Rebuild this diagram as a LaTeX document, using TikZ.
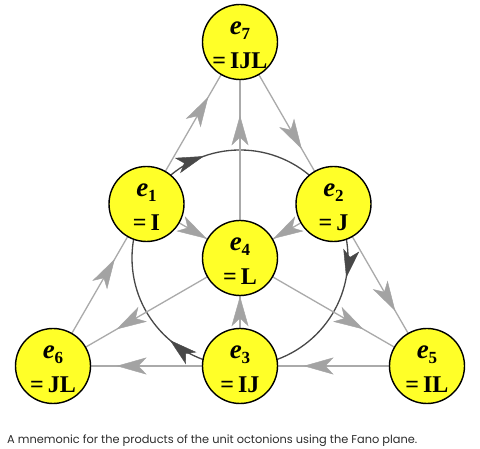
\documentclass[tikz,border=0pt]{standalone}
\usepackage{fontspec}
\setmainfont{Liberation Serif}
\newfontfamily\capfont{Poppins}
\usetikzlibrary{arrows.meta,decorations.markings,backgrounds,calc}
\definecolor{nodeyellow}{RGB}{255,255,40}
\definecolor{edgegray}{RGB}{170,170,170}
\definecolor{arrowgray}{RGB}{163,163,163}
\definecolor{circdark}{RGB}{72,72,72}
\definecolor{arrowdark}{RGB}{72,72,72}
\definecolor{captiongray}{RGB}{45,45,45}
\tikzset{
  garrow/.tip={Stealth[length=30pt,width=17pt,inset=8pt,line width=0.4pt,color=arrowgray,fill=arrowgray]},
  darrow/.tip={Stealth[length=28pt,width=16pt,inset=7pt,line width=0.4pt,color=arrowdark,fill=arrowdark]},
  fano/.style={circle,draw=black,line width=1.4pt,fill=nodeyellow,minimum size=75pt,inner sep=0pt},
  etxt/.style={anchor=base,inner sep=0pt,font=\fontsize{27}{27}\selectfont\bfseries\itshape},
  vtxt/.style={anchor=base,inner sep=0pt,font=\fontsize{24}{24}\selectfont\bfseries},
  fanoedge/.style={draw=edgegray,line width=1.3pt,postaction={decorate},
    decoration={markings,mark=at position #1 with {\arrow{garrow}}}},
  fanoedge/.default=0.66,
  darkcirc/.style={draw=circdark,line width=1.3pt,postaction={decorate},
    decoration={markings,
      mark=at position 0.3042 with {\arrowreversed{darrow}},
      mark=at position 0.6375 with {\arrowreversed{darrow}},
      mark=at position 0.9708 with {\arrowreversed{darrow}}}}
}
\newcommand{\esub}[1]{e\raisebox{-5pt}{\fontsize{17}{17}\selectfont\upshape\bfseries #1}}
\begin{document}
\begin{tikzpicture}[x=1pt,y=1pt]
\useasboundingbox (0,0) rectangle (480,449);
% nodes
\node[fano] (e7) at (240,407) {};
\node[fano] (e1) at (146.5,245) {};
\node[fano] (e2) at (333.5,245) {};
\node[fano] (e4) at (240,191) {};
\node[fano] (e6) at (53,83) {};
\node[fano] (e3) at (240,83) {};
\node[fano] (e5) at (427,83) {};
% labels
\foreach \d/\v in {7/IJL,1/I,2/J,4/L,6/JL,3/IJ,5/IL}{
  \node[etxt] (s\d) at ($(e\d.center)+(0,7)$) {\esub{\d}};
  \node[vtxt] (v\d) at ($(e\d.center)+(0,-27)$) {=\,\v};
}
% caption
\node[anchor=base west,inner sep=0pt,text=captiongray] (cap) at (7,5)
  {\resizebox{410pt}{!}{\capfont\fontsize{10.5}{12}\selectfont A mnemonic for the products of the unit octonions using the Fano plane.}};
% connectors
\begin{scope}[on background layer]
\fill[white] (0,0) rectangle (480,449);
\draw[darkcirc] (e4.center) circle[radius=108pt];
\draw[fanoedge] (e6.center) -- (e1.center);
\draw[fanoedge] (e1.center) -- (e7.center);
\draw[fanoedge] (e7.center) -- (e2.center);
\draw[fanoedge] (e2.center) -- (e5.center);
\draw[fanoedge] (e5.center) -- (e3.center);
\draw[fanoedge] (e3.center) -- (e6.center);
\draw[fanoedge=0.645] (e3.center) -- (e4.center);
\draw[fanoedge] (e4.center) -- (e7.center);
\draw[fanoedge=0.645] (e1.center) -- (e4.center);
\draw[fanoedge] (e4.center) -- (e5.center);
\draw[fanoedge=0.645] (e2.center) -- (e4.center);
\draw[fanoedge] (e4.center) -- (e6.center);
\end{scope}
\end{tikzpicture}
\end{document}
